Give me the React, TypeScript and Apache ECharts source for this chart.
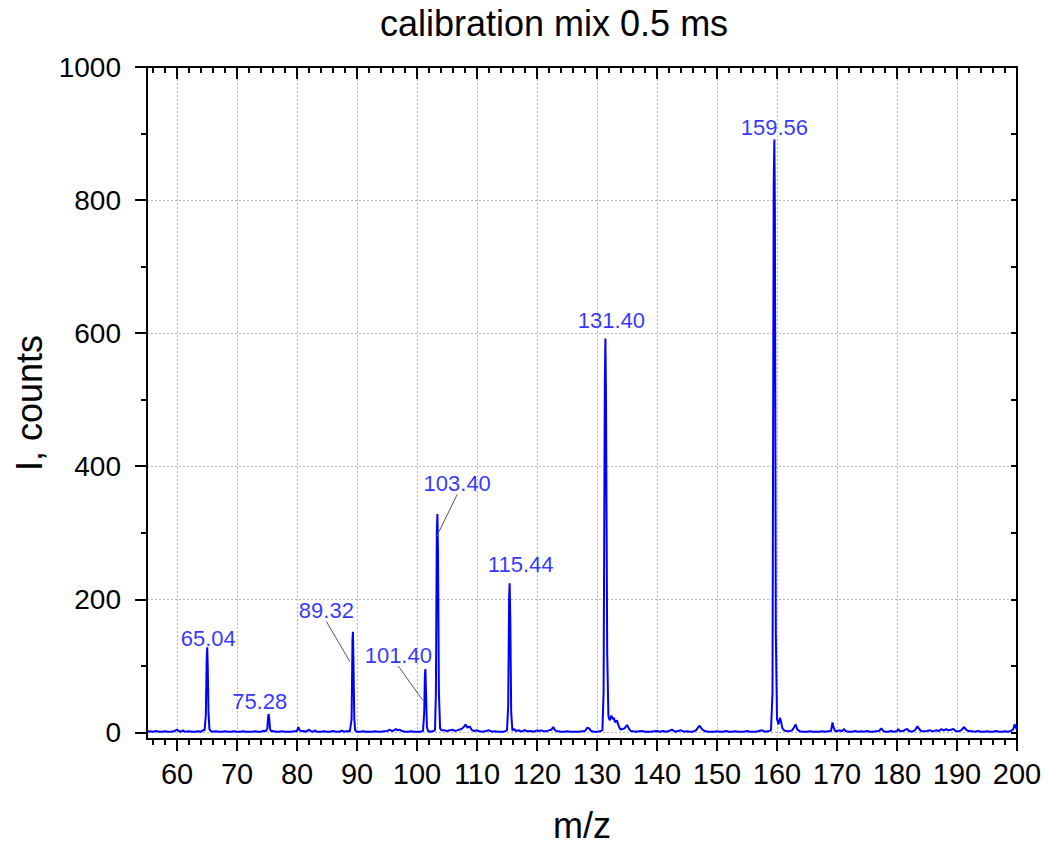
import React, { useEffect, useRef } from "react";
import * as echarts from "echarts";

// ---- data ----
const chartTitle = "calibration mix 0.5 ms";
const xName = "m/z";
const yName = "I, counts";

const xMajorTicks = [60, 70, 80, 90, 100, 110, 120, 130, 140, 150, 160, 170, 180, 190, 200];
const yMajorTicks = [0, 200, 400, 600, 800, 1000];
const yMinorTicks = [100, 300, 500, 700, 900];
const yRightTicks = [0, 100, 200, 300, 400, 500, 600, 700, 800, 900, 1000];

// [m/z, intensity]
const spectrum: [number, number][] = [
  [55, 1], [55.5, 1.5], [56, 1], [56.5, 2], [57, 1], [57.5, 1], [58, 1.5], [58.5, 1], [59, 1], [59.5, 1.5],
  [60, 4], [60.3, 2], [60.7, 1], [61, 3], [61.3, 1], [62, 1.5], [62.5, 1], [63, 1], [63.5, 1.5], [64, 1],
  [64.3, 3], [64.6, 3], [64.8, 25], [64.95, 110], [65.04, 128], [65.12, 100], [65.25, 30], [65.4, 5], [65.6, 2],
  [66, 1], [66.5, 1.5], [67, 1], [67.5, 1], [68, 1.5], [68.5, 1], [69, 1], [69.5, 1.5], [70, 1], [70.5, 1],
  [71, 1.5], [71.5, 1], [72, 1], [72.5, 1], [73, 1.5], [73.5, 1], [74, 1], [74.5, 2.5], [74.8, 1.5],
  [75.05, 6], [75.2, 24], [75.28, 27.5], [75.38, 20], [75.5, 5], [75.7, 1.5], [76, 2], [76.5, 1], [77, 1],
  [77.5, 1.5], [78, 1], [78.5, 1], [79, 1], [79.5, 1.5], [80, 2], [80.2, 8], [80.4, 4], [80.7, 1.5], [81, 2],
  [81.5, 1], [82, 4], [82.3, 1.5], [82.7, 1], [83, 3], [83.3, 1], [84, 1], [84.5, 1.5], [85, 1], [85.5, 1],
  [86, 2], [86.5, 1], [87, 1], [87.5, 2.5], [87.8, 1], [88.5, 2], [88.8, 1], [89.1, 20], [89.25, 140],
  [89.32, 151], [89.4, 110], [89.55, 20], [89.7, 3], [90, 1], [90.5, 1], [91, 1.5], [91.5, 1], [92, 1],
  [92.5, 1], [93, 1.5], [93.5, 1], [94, 1], [94.5, 1.5], [95, 2], [95.5, 4], [95.8, 2], [96.2, 3], [96.5, 5],
  [96.8, 3], [97.1, 4], [97.5, 2], [98, 1], [98.5, 1], [99, 1.5], [99.5, 1], [100, 1], [100.5, 1], [101, 2],
  [101.2, 30], [101.32, 88], [101.4, 95], [101.5, 60], [101.65, 8], [101.85, 2], [102.2, 1], [102.6, 1.5],
  [103, 3], [103.15, 60], [103.3, 300], [103.4, 328], [103.5, 270], [103.65, 60], [103.85, 6], [104.1, 3],
  [104.5, 3], [105, 2], [105.5, 3], [106, 4], [106.3, 2], [106.7, 3], [107, 4], [107.4, 5], [107.8, 8],
  [108.1, 12], [108.4, 7], [108.8, 9], [109.1, 4], [109.5, 2], [110, 3], [110.4, 1.5], [111, 1], [111.5, 2],
  [112, 3], [112.5, 1], [113, 1.5], [113.5, 1], [114, 1], [114.5, 1], [115, 3], [115.2, 40], [115.35, 200],
  [115.44, 224], [115.55, 170], [115.7, 30], [115.9, 3], [116.2, 5], [116.5, 2], [117, 3], [117.4, 1],
  [118, 3.5], [118.3, 1.5], [119, 2], [119.5, 1], [120, 3], [120.3, 2], [120.7, 3], [121, 2], [121.5, 1.5],
  [122, 3], [122.4, 4], [122.7, 8], [123, 3], [123.5, 1.5], [124, 1], [124.5, 1], [125, 1.5], [125.5, 1],
  [126, 1], [126.5, 1], [127, 1], [127.5, 1.5], [128, 2], [128.4, 7], [128.7, 6], [129, 2], [129.5, 1],
  [130, 1], [130.5, 1.5], [130.9, 3], [131.1, 60], [131.3, 520], [131.4, 592], [131.5, 500], [131.7, 120],
  [131.9, 25], [132.1, 18], [132.4, 25], [132.6, 20], [132.8, 22], [133, 15], [133.3, 18], [133.6, 10],
  [133.9, 4], [134.2, 5], [134.6, 6], [135, 11], [135.3, 6], [135.6, 2], [136, 1.5], [136.5, 1], [137, 1.5],
  [137.5, 2], [138, 1], [138.5, 1], [139, 1], [139.5, 1.5], [140, 2], [140.5, 1], [141, 2], [141.5, 1],
  [142, 2], [142.5, 4], [143, 1], [143.5, 2], [144, 3], [144.5, 1], [145, 1.5], [145.5, 1], [146, 1],
  [146.5, 3], [146.9, 8], [147.1, 10], [147.4, 6], [147.7, 3], [148, 2], [148.5, 1], [149, 1], [149.5, 1],
  [150, 1.5], [150.5, 1], [151, 1], [151.5, 2], [152, 1], [152.5, 1], [153, 1.5], [153.5, 1], [154, 1],
  [154.5, 1], [155, 2], [155.5, 1], [156, 1], [156.5, 1], [157, 2], [157.5, 3], [158, 1], [158.5, 1.5],
  [159, 3], [159.25, 60], [159.45, 820], [159.56, 891], [159.65, 780], [159.8, 150], [160, 20], [160.25, 12],
  [160.5, 22], [160.7, 15], [160.9, 6], [161.2, 3], [161.5, 2], [162, 1.5], [162.5, 3], [162.8, 7],
  [163.1, 12], [163.4, 4], [163.8, 1.5], [164.3, 1], [165, 1], [165.5, 1.5], [166, 1], [166.5, 1], [167, 1],
  [167.5, 1.5], [168, 1], [168.5, 1.5], [169, 2], [169.25, 15], [169.4, 8], [169.7, 2], [170, 2], [170.5, 3],
  [170.8, 1.5], [171.2, 5], [171.5, 1.5], [172, 1], [172.5, 1], [173, 2], [173.5, 1], [174, 1.5], [174.5, 1],
  [175, 2], [175.5, 1], [176, 1], [176.5, 1.5], [177, 2], [177.4, 6], [177.7, 2], [178, 1], [178.5, 1],
  [179, 2], [179.5, 1], [180, 2], [180.2, 5], [180.5, 1.5], [181, 2], [181.4, 4], [181.7, 5], [182, 2],
  [182.5, 1], [183, 3], [183.4, 9], [183.7, 5], [184, 2], [184.5, 1.5], [185, 2], [185.5, 3], [186, 1.5],
  [186.5, 3], [187, 2], [187.4, 5], [187.8, 3], [188.2, 5], [188.6, 3], [189, 4], [189.4, 5], [189.8, 2],
  [190.2, 1.5], [190.7, 3], [191.2, 8], [191.5, 4], [191.9, 2], [192.5, 1.5], [193, 1], [193.5, 2], [194, 1],
  [194.5, 1], [195, 1.5], [195.5, 1], [196, 1], [196.5, 2], [197, 1], [197.5, 1], [198, 1.5], [198.5, 1],
  [199, 2], [199.4, 5], [199.6, 12], [199.8, 8], [200, 4],
];

// peak annotations: text, anchor m/z, anchor intensity (leader lines end on the peak flank)
const peakLabelTexts = ["65.04", "75.28", "89.32", "101.40", "103.40", "115.44", "131.40", "159.56"];
const peakAnchorMz = [65.04, 75.28, 88.9, 101.05, 103.2, 115.44, 131.4, 159.56];
const peakAnchorI = [128, 27.5, 105, 47, 293, 224, 592, 891];
const peakHasLeader = [false, false, true, true, true, false, false, false];

// ---- styles ----
const FONT = "'Liberation Sans', Arial, Helvetica, sans-serif";
const labelShift: [number, number][] = [
  [1, -9], [-9, -13], [-24, -52], [-25, -46], [21, -54], [11, -19], [6, -18], [0, -12],
];

const X_MIN = 55, X_MAX = 200, Y_MIN = -10, Y_MAX = 1000;

function buildXMinor(): number[] {
  const out: number[] = [];
  for (let v = 56; v < X_MAX; v += 2) if (v % 10 !== 0) out.push(v);
  return out;
}

export default function App() {
  const ref = useRef<HTMLDivElement>(null);
  useEffect(() => {
    if (!ref.current) return;
    const chart = echarts.init(ref.current, null, { renderer: "svg" });
    const xMinor = buildXMinor();
    const black = "#000";
    const baseX = {
      type: "value" as const,
      min: X_MIN,
      max: X_MAX,
      axisLabel: { show: false },
      splitLine: { show: false },
    };
    const baseY = {
      type: "value" as const,
      min: Y_MIN,
      max: Y_MAX,
      axisLabel: { show: false },
      splitLine: { show: false },
    };
    const option: any = {
      animation: false,
      backgroundColor: "#fff",
      title: {
        text: chartTitle,
        left: 375,
        top: 0,
        textStyle: { fontSize: 36, fontWeight: "normal", color: black, fontFamily: FONT },
      },
      grid: { left: 147, right: 31, top: 67, bottom: 106, containLabel: false, outerBoundsMode: "none" },
      xAxis: [
        {
          ...baseX,
          position: "bottom",
          splitNumber: 14,
          name: xName,
          nameLocation: "middle",
          nameGap: 68,
          nameTextStyle: { fontSize: 36, color: black, fontFamily: FONT },
          axisLine: { show: true, onZero: false, lineStyle: { color: black, width: 2 } },
          axisTick: { show: true, inside: false, length: 12, customValues: xMajorTicks, lineStyle: { color: black, width: 2 } },
          axisLabel: {
            show: true,
            customValues: xMajorTicks,
            formatter: (v: number) => String(v),
            fontSize: 29,
            color: black,
            fontFamily: FONT,
            margin: 20,
          },
          splitLine: { show: true, lineStyle: { color: "#b4b4b4", type: [2, 2], width: 1 } },
        },
        {
          ...baseX,
          position: "bottom",
          axisLine: { show: false, onZero: false },
          axisTick: { show: true, inside: false, length: 6, customValues: xMinor, lineStyle: { color: black, width: 2 } },
        },
        {
          ...baseX,
          position: "top",
          axisLine: { show: true, onZero: false, lineStyle: { color: black, width: 2 } },
          axisTick: { show: true, inside: true, length: 12, customValues: xMajorTicks, lineStyle: { color: black, width: 2 } },
        },
        {
          ...baseX,
          position: "top",
          axisLine: { show: false, onZero: false },
          axisTick: { show: true, inside: true, length: 6, customValues: xMinor, lineStyle: { color: black, width: 2 } },
        },
      ],
      yAxis: [
        {
          ...baseY,
          position: "left",
          splitNumber: 5,
          name: yName,
          nameLocation: "middle",
          nameGap: 100,
          nameTextStyle: { fontSize: 36, color: black, fontFamily: FONT },
          axisLine: { show: true, onZero: false, lineStyle: { color: black, width: 2 } },
          axisTick: { show: true, inside: false, length: 12, customValues: yMajorTicks, lineStyle: { color: black, width: 2 } },
          axisLabel: {
            show: true,
            customValues: yMajorTicks,
            formatter: (v: number) => String(v),
            fontSize: 28,
            color: black,
            fontFamily: FONT,
            margin: 26,
          },
          splitLine: { show: true, lineStyle: { color: "#b4b4b4", type: [2, 2], width: 1 } },
        },
        {
          ...baseY,
          position: "left",
          axisLine: { show: false, onZero: false },
          axisTick: { show: true, inside: false, length: 6, customValues: yMinorTicks, lineStyle: { color: black, width: 2 } },
        },
        {
          ...baseY,
          position: "right",
          axisLine: { show: true, onZero: false, lineStyle: { color: black, width: 2 } },
          axisTick: { show: true, inside: true, length: 6, customValues: yRightTicks, lineStyle: { color: black, width: 2 } },
        },
      ],
      series: [
        {
          type: "line",
          xAxisIndex: 0,
          yAxisIndex: 0,
          data: spectrum,
          showSymbol: false,
          symbol: "none",
          lineStyle: { color: "#0000ff", width: 2 },
          itemStyle: { color: "#0000ff" },
          emphasis: { disabled: true },
          z: 3,
        },
        {
          type: "scatter",
          xAxisIndex: 0,
          yAxisIndex: 0,
          symbol: "circle",
          symbolSize: 2,
          itemStyle: { color: "rgba(0,0,0,0)" },
          emphasis: { disabled: true },
          silent: true,
          z: 5,
          data: peakLabelTexts.map((t, i) => ({
            name: t,
            value: [peakAnchorMz[i], peakAnchorI[i]],
            labelLine: { show: peakHasLeader[i] },
          })),
          label: {
            show: true,
            position: "inside",
            formatter: (p: any) => p.name,
            fontSize: 22,
            color: "#0000ff",
            textBorderWidth: 0,
            fontFamily: FONT,
          },
          labelLine: { show: false, lineStyle: { color: "#555", width: 1 } },
          labelLayout: (p: any) => ({ dx: labelShift[p.dataIndex][0], dy: labelShift[p.dataIndex][1] }),
        },
      ],
    };
    chart.setOption(option);
    return () => chart.dispose();
  }, []);
  return (
    <div
      ref={ref}
      style={{ position: "absolute", left: 0, top: 0, width: 1048, height: 845, background: "#fff" }}
    />
  );
}
